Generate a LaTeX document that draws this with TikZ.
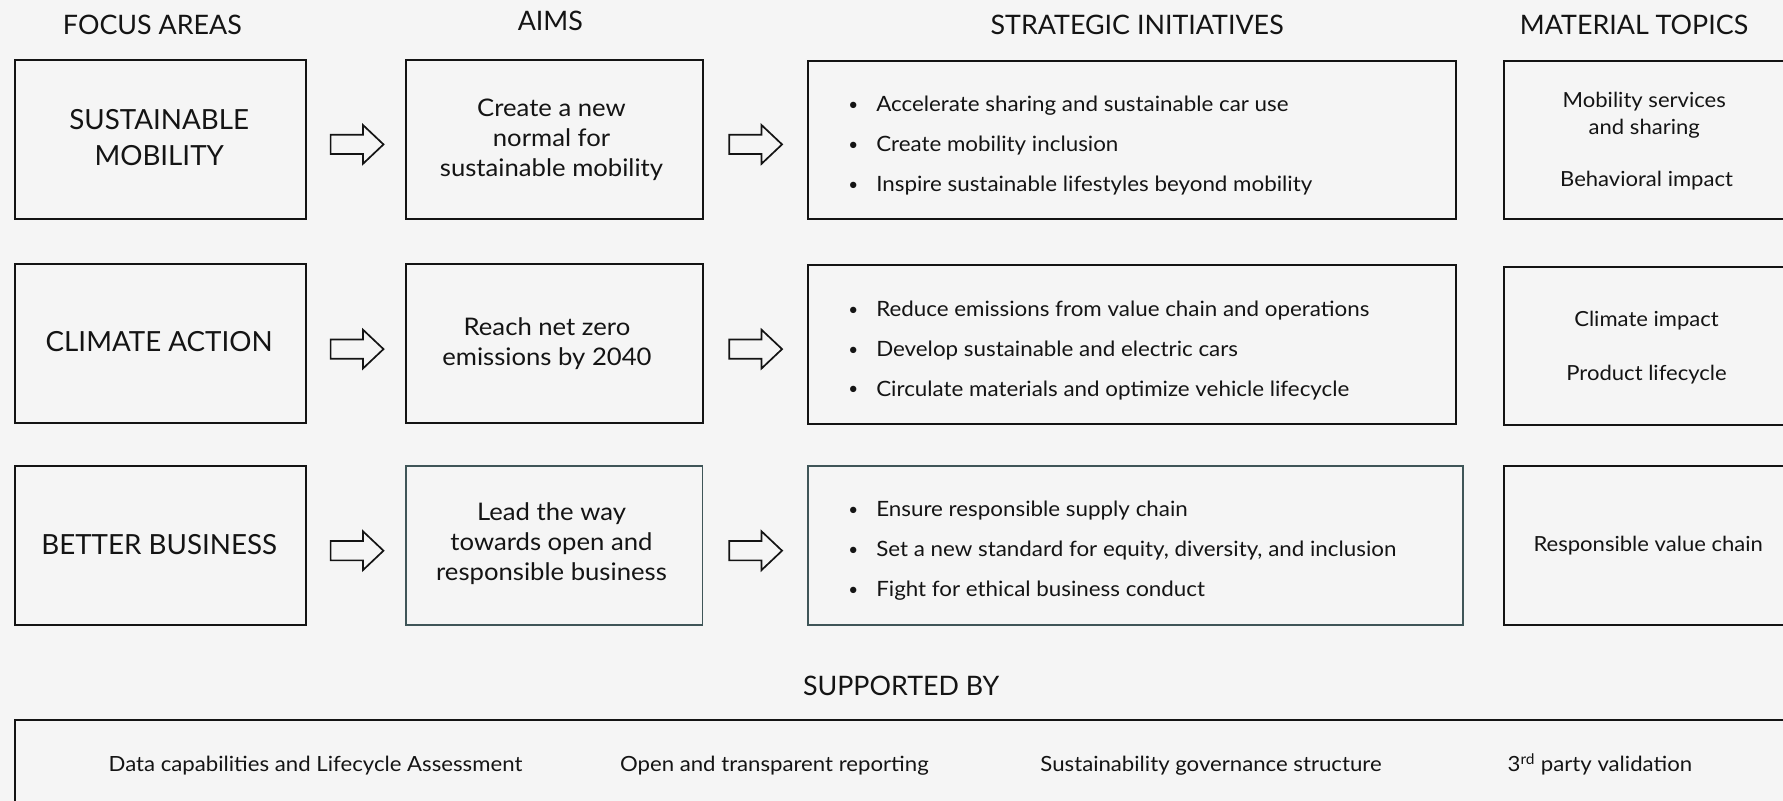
\documentclass[tikz,border=0pt]{standalone}
\usepackage{fontspec}
\setmainfont{Lato}
\newfontfamily\lw[FakeStretch=1.06]{Lato}
\usetikzlibrary{calc}
\definecolor{bg}{HTML}{F5F5F5}
\definecolor{ink}{HTML}{141414}
\definecolor{slate}{HTML}{3F5558}
\newcommand\blkarrow[2]{%
  \draw[arrowline] (#1,#2) ++(-23.25,-8.5) -- ++(28.5,0) -- ++(0,-8.5) -- ++(18,17)
    -- ++(-18,17) -- ++(0,-8.5) -- ++(-28.5,0) -- cycle;}
\begin{document}
\begin{tikzpicture}[x=1pt,y=-1pt,
  box/.style={draw=ink, line width=1.8pt, rectangle, inner sep=0pt, anchor=north west},
  sbox/.style={box, draw=slate, line width=1.6pt},
  arrowline/.style={draw=ink, fill=bg, line width=1.5pt, line join=miter},
  txt/.style={text=ink, anchor=base, inner sep=0pt},
  hdr/.style={txt, font=\fontsize{23.6}{28}\selectfont},
  focus/.style={txt, font=\fontsize{24.4}{28}\selectfont},
  aim/.style={txt, font=\lw\fontsize{21.3}{24}\selectfont},
  bul/.style={txt, anchor=base west, font=\lw\fontsize{18.55}{22}\selectfont},
  dot/.style={txt, font=\fontsize{15}{18}\selectfont},
  mat/.style={txt, font=\lw\fontsize{18.3}{22}\selectfont},
  sup/.style={txt, font=\lw\fontsize{18.4}{22}\selectfont}
]
\fill[bg] (0,0) rectangle (1568,704.4);
\useasboundingbox (0,0) rectangle (1568,704.4);
\begin{scope}
\clip (0,0) rectangle (1568,704.4);
% headers
\node[hdr] (h1) at (134,30.5) {FOCUS AREAS};
\node[hdr] (h2) at (484,26.5) {AIMS};
\node[hdr] (h3) at (1000,30.5) {STRATEGIC INITIATIVES};
\node[hdr] (h4) at (1437,30.5) {MATERIAL TOPICS};
\node[hdr] (h5) at (792.5,611.2) {SUPPORTED BY};
% boxes
\node[box, minimum width=256pt, minimum height=139.5pt] (f1) at (12,52) {};
\node[box, minimum width=256pt, minimum height=140pt] (f2) at (12,231.5) {};
\node[box, minimum width=256pt, minimum height=140pt] (f3) at (12,409) {};
\node[box, minimum width=261pt, minimum height=139.5pt] (a1) at (356,52) {};
\node[box, minimum width=261pt, minimum height=140pt] (a2) at (356,231.5) {};
\node[sbox, minimum width=261pt, minimum height=140pt] (a3) at (356,409) {};
\node[box, minimum width=570pt, minimum height=139.5pt] (s1) at (709.5,52.5) {};
\node[box, minimum width=570pt, minimum height=140pt] (s2) at (709.5,232) {};
\node[sbox, minimum width=576pt, minimum height=140pt] (s3) at (709.5,409) {};
\node[box, minimum width=262pt, minimum height=139.5pt] (m1) at (1322,52.5) {};
\node[box, minimum width=262pt, minimum height=139.5pt] (m2) at (1322,233.5) {};
\node[box, minimum width=262pt, minimum height=140pt] (m3) at (1322,409) {};
\node[box, minimum width=1580pt, minimum height=120pt] (sb) at (12.5,632) {};
% arrows
\blkarrow{314}{127}
\blkarrow{664.5}{127}
\blkarrow{314}{307}
\blkarrow{664.5}{307}
\blkarrow{314}{484.3}
\blkarrow{664.5}{484.3}
% focus texts
\node[focus] (f1t1) at (140,114.3) {SUSTAINABLE};
\node[focus] (f1t2) at (140,145.7) {MOBILITY};
\node[focus] (f2t1) at (140,309.5) {CLIMATE ACTION};
\node[focus] (f3t1) at (140,487.5) {BETTER BUSINESS};
% aims texts
\node[aim] (a1t1) at (485,102.6) {Create a new};
\node[aim] (a1t2) at (485,129) {normal for};
\node[aim] (a1t3) at (485,155.4) {sustainable mobility};
\node[aim] (a2t1) at (481,295.3) {Reach net zero};
\node[aim] (a2t2) at (481,321.7) {emissions by 2040};
\node[aim] (a3t1) at (485,458) {Lead the way};
\node[aim] (a3t2) at (485,484.3) {towards open and};
\node[aim] (a3t3) at (485,510.6) {responsible business};
% initiatives
\foreach \y/\t [count=\i] in {98.2/Accelerate sharing and sustainable car use,
  133.4/Create mobility inclusion, 168.6/Inspire sustainable lifestyles beyond mobility,
  278.5/Reduce emissions from value chain and operations,
  313.7/Develop sustainable and electric cars,
  348.3/Circulate materials and optimize vehicle lifecycle,
  454.4/Ensure responsible supply chain,
  489.6/{Set a new standard for equity, diversity, and inclusion},
  524.6/Fight for ethical business conduct}{
  \node[dot] (b\i) at (750.5,\y-1) {•};
  \node[bul] (i\i) at (770.4,\y) {\t};
}
% material topics
\node[mat] (m1t1) at (1446,94.4) {Mobility services};
\node[mat] (m1t2) at (1446,118.7) {and sharing};
\node[mat] (m1t3) at (1448,164.2) {Behavioral impact};
\node[mat] (m2t1) at (1448,287.3) {Climate impact};
\node[mat] (m2t2) at (1448,334.2) {Product lifecycle};
\node[mat] (m3t1) at (1449.5,485.2) {Responsible value chain};
% supported by
\node[sup] (p1) at (277.5,678.6) {Data capabilities and Lifecycle Assessment};
\node[sup] (p2) at (681,678.6) {Open and transparent reporting};
\node[sup] (p3) at (1065,678.6) {Sustainability governance structure};
\node[sup] (p4) at (1407,678.6) {3\textsuperscript{rd} party validation};
\end{scope}
\end{tikzpicture}
\end{document}
